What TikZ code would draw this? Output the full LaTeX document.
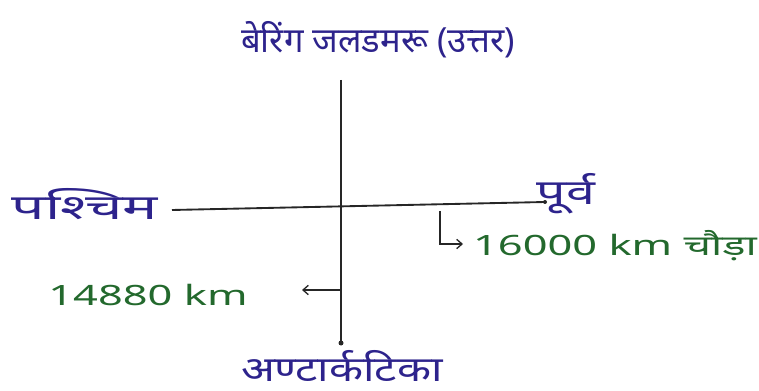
\documentclass[tikz,border=0pt]{standalone}
\usepackage{fontspec}
\newfontfamily\deva[Script=Devanagari]{Noto Sans}
\usetikzlibrary{arrows.meta}
\definecolor{ink}{RGB}{45,35,140}
\definecolor{grn}{RGB}{35,105,45}
\tikzset{
  lbl/.style={inner sep=0pt, text=ink, font=\deva\fontsize{26}{30}\selectfont},
  glbl/.style={inner sep=0pt, text=grn, xscale=1.55, font=\deva\fontsize{21}{24}\selectfont},
  axis/.style={line width=1.4pt, black!85},
  ptr/.style={line width=1pt, black!85, -{Straight Barb[length=4pt,width=7pt]}},
}
\begin{document}
\begin{tikzpicture}[x=0.75pt,y=-0.75pt]
\useasboundingbox (0,0) rectangle (759,391);
\node[lbl] (north) at (378,40) {बेरिंग जलडमरू (उत्तर)};
\node[lbl, xscale=1.7] (west) at (85,204) {पश्चिम};
\node[lbl, xscale=1.5] (east) at (566,194) {पूर्व};
\node[lbl, xscale=1.28] (south) at (342,366) {अण्टार्कटिका};
\node[glbl] (width) at (615,246) {16000 km चौड़ा};
\node[glbl] (length) at (148,295) {14880 km};
\coordinate (vt) at (341,80);
\coordinate (vb) at (341,343);
\coordinate (hl) at (172,210);
\coordinate (hr) at (545,202);
\draw[axis] (vt) -- (vb);
\fill[black!85] (vb) circle (2.5);
\draw[axis] (hl) -- (hr);
\fill[black!85] (hr) circle (2);
\coordinate (hk) at (440,211);
\coordinate (hke) at (463,244);
\draw[ptr] (hk) |- (hke);
\coordinate (la) at (341,290);
\coordinate (lae) at (302,290);
\draw[ptr] (la) -- (lae);
\end{tikzpicture}
\end{document}
